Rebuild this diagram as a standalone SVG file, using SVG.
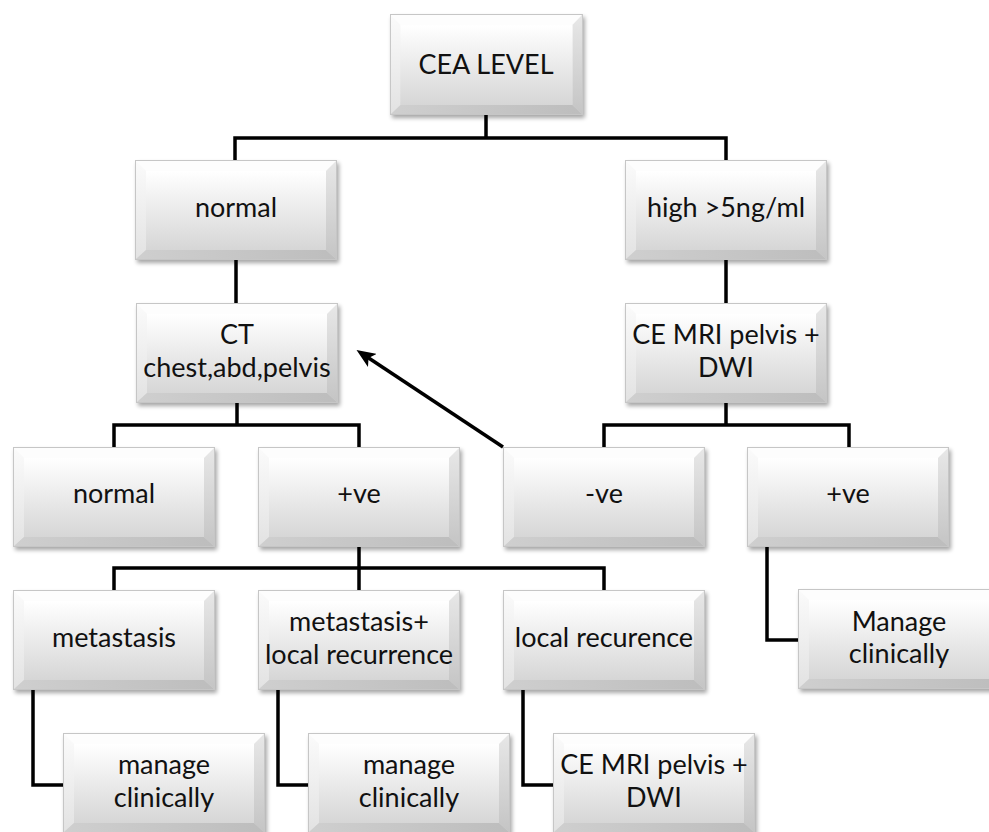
<svg xmlns="http://www.w3.org/2000/svg" xmlns:xlink="http://www.w3.org/1999/xlink" width="989" height="832" viewBox="0 0 989 832">
<style>
.t{font-family:Lato,"Liberation Sans",sans-serif;font-size:27px;fill:#111;text-anchor:middle}
.c{fill:none;stroke:#000;stroke-width:3.5}
</style>
<defs>
<filter id="sh" x="-10%" y="-10%" width="130%" height="140%"><feGaussianBlur stdDeviation="2"/></filter>
<linearGradient id="face" x1="0" y1="0" x2="0" y2="1"><stop offset="0" stop-color="#ffffff"/><stop offset="1" stop-color="#d6d6d6"/></linearGradient>
<linearGradient id="lg" x1="0" y1="0" x2="0" y2="1"><stop offset="0" stop-color="#fbfbfb"/><stop offset="1" stop-color="#e2e2e2"/></linearGradient>
<linearGradient id="rg" x1="0" y1="0" x2="0" y2="1"><stop offset="0" stop-color="#e8e8e8"/><stop offset="1" stop-color="#c4c4c4"/></linearGradient>
<linearGradient id="bg" x1="0" y1="0" x2="1" y2="0"><stop offset="0" stop-color="#cfcfcf"/><stop offset="1" stop-color="#bdbdbd"/></linearGradient>
<g id="bx">
<rect x="2" y="3" width="202" height="100" fill="#000" opacity="0.35" filter="url(#sh)"/>
<rect x="0" y="0" width="202" height="100" fill="url(#face)"/>
<polygon points="0,0 202,0 191,11 11,11" fill="#fdfdfd"/>
<polygon points="0,0 11,11 11,90 0,100" fill="url(#lg)"/>
<polygon points="202,0 202,100 191,90 191,11" fill="url(#rg)"/>
<polygon points="0,100 202,100 191,90 11,90" fill="url(#bg)"/>
<rect x="11" y="11" width="180" height="79" fill="url(#face)"/>
<rect x="0.5" y="0.5" width="201" height="99" fill="none" stroke="#c6c6c6" stroke-width="1"/>
</g>
<marker id="ah" markerUnits="userSpaceOnUse" markerWidth="20" markerHeight="16" viewBox="0 0 18 14" refX="10" refY="7" orient="auto">
<path d="M0,0 L17,7 L0,14 L4,7 z" fill="#000"/>
</marker>
</defs>
<g id="connectors">
<path class="c" d="M235,160 V138 H726 V160 M486,115 V138"/>
<path class="c" d="M236,260 V303"/>
<path class="c" d="M726,260 V303"/>
<path class="c" d="M237,403 V425 M114,447 V425 H359 V447"/>
<path class="c" d="M726,403 V425 M604,447 V425 H849 V447"/>
<path class="c" d="M359,547 V590 M114,590 V568 H604 V590"/>
<path class="c" d="M33,690 V785 H63"/>
<path class="c" d="M278,690 V785 H308"/>
<path class="c" d="M523,690 V785 H553"/>
<path class="c" d="M767,547 V640 H798"/>
<line class="c" x1="503" y1="447" x2="363" y2="354.3" marker-end="url(#ah)"/>
</g>
<g id="n-cea"><use xlink:href="#bx" transform="translate(390,14) scale(0.955,1.01)"/><text class="t" x="486" y="74">CEA LEVEL</text></g>
<g id="n-normal1"><use xlink:href="#bx" x="135" y="160"/><text class="t" x="236" y="217">normal</text></g>
<g id="n-high"><use xlink:href="#bx" x="625" y="160"/><text class="t" x="726" y="217">high &gt;5ng/ml</text></g>
<g id="n-ct"><use xlink:href="#bx" x="136" y="303"/><text class="t" x="237" y="344">CT</text><text class="t" x="237" y="377">chest,abd,pelvis</text></g>
<g id="n-mri1"><use xlink:href="#bx" x="625" y="303"/><text class="t" x="726" y="344">CE MRI pelvis +</text><text class="t" x="726" y="377">DWI</text></g>
<g id="n-normal2"><use xlink:href="#bx" x="13" y="447"/><text class="t" x="114" y="503">normal</text></g>
<g id="n-pos1"><use xlink:href="#bx" x="258" y="447"/><text class="t" x="359" y="503">+ve</text></g>
<g id="n-neg"><use xlink:href="#bx" x="503" y="447"/><text class="t" x="604" y="503">-ve</text></g>
<g id="n-pos2"><use xlink:href="#bx" x="747" y="447"/><text class="t" x="848" y="503">+ve</text></g>
<g id="n-meta"><use xlink:href="#bx" x="13" y="590"/><text class="t" x="114" y="647">metastasis</text></g>
<g id="n-metaloc"><use xlink:href="#bx" x="258" y="590"/><text class="t" x="359" y="631">metastasis+</text><text class="t" x="359" y="664">local recurrence</text></g>
<g id="n-local"><use xlink:href="#bx" x="503" y="590"/><text class="t" x="604" y="647">local recurence</text></g>
<g id="n-manage-r"><use xlink:href="#bx" x="798" y="589"/><text class="t" x="899" y="631">Manage</text><text class="t" x="899" y="663">clinically</text></g>
<g id="n-manage1"><use xlink:href="#bx" x="63" y="733"/><text class="t" x="164" y="774">manage</text><text class="t" x="164" y="807">clinically</text></g>
<g id="n-manage2"><use xlink:href="#bx" x="308" y="733"/><text class="t" x="409" y="774">manage</text><text class="t" x="409" y="807">clinically</text></g>
<g id="n-mri2"><use xlink:href="#bx" x="553" y="733"/><text class="t" x="654" y="774">CE MRI pelvis +</text><text class="t" x="654" y="807">DWI</text></g>
</svg>
